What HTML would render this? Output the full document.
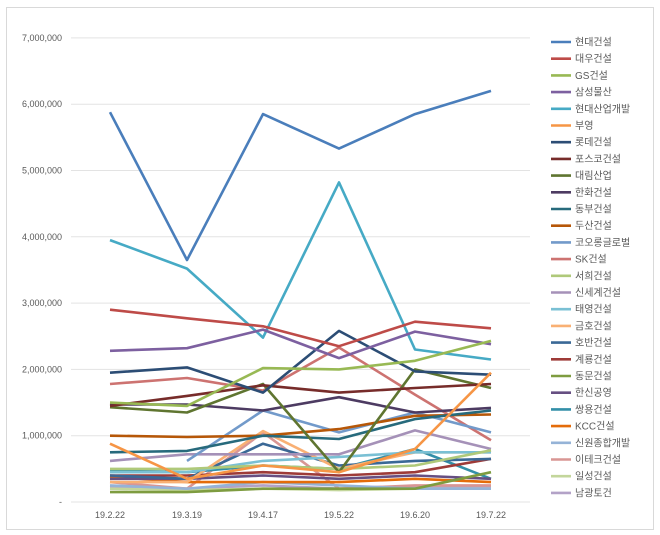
<!DOCTYPE html>
<html><head><meta charset="utf-8"><style>
html,body{margin:0;padding:0;background:#fff;}
svg{display:block;font-family:"Liberation Sans","Noto Sans CJK KR",sans-serif;}
</style></head><body>
<svg id="c" width="660" height="535" xmlns="http://www.w3.org/2000/svg">
<rect x="6.5" y="7.5" width="647" height="522" fill="#fff" stroke="#d9d9d9"/>
<g id="grid"></g><g id="lines" fill="none" stroke-width="2.6" stroke-linejoin="round"></g><g id="leg"></g>
</svg>
<script>
var NS="http://www.w3.org/2000/svg";
function el(t,a,p,txt){var e=document.createElementNS(NS,t);for(var k in a)e.setAttribute(k,a[k]);if(txt!==undefined)e.textContent=txt;p.appendChild(e);return e;}
var g=document.getElementById('grid'),L=document.getElementById('lines'),G=document.getElementById('leg');
function Y(v){return 502-v*66.3;}
var labs=["-","1,000,000","2,000,000","3,000,000","4,000,000","5,000,000","6,000,000","7,000,000"];
for(var i=0;i<8;i++){var y=Y(i);el('line',{x1:71,x2:530,y1:y,y2:y,stroke:'#e3e3e3','stroke-width':1},g);
el('text',{x:62,y:y+3,'font-size':9,fill:'#595959','text-anchor':'end'},g,labs[i]);}
var X=[110,187,263,339,415,491],xl=["19.2.22","19.3.19","19.4.17","19.5.22","19.6.20","19.7.22"];
for(i=0;i<6;i++)el('text',{x:X[i],y:518,'font-size':9,fill:'#595959','text-anchor':'middle'},g,xl[i]);
var S=[
["현대건설","#4a7ebb",[5.88,3.65,5.85,5.33,5.85,6.2]],
["대우건설","#be4b48",[2.9,2.77,2.65,2.35,2.72,2.62]],
["GS건설","#98b954",[1.5,1.45,2.02,2.0,2.13,2.43]],
["삼성물산","#7d60a0",[2.28,2.32,2.6,2.17,2.57,2.38]],
["현대산업개발","#46aac5",[3.95,3.52,2.48,4.82,2.3,2.15]],
["부영","#f69545",[0.88,0.35,0.55,0.45,0.8,1.95]],
["롯데건설","#2c4d75",[1.95,2.03,1.65,2.58,1.97,1.92]],
["포스코건설","#772c2a",[1.45,1.6,1.76,1.65,1.72,1.78]],
["대림산업","#5f7530",[1.43,1.35,1.78,0.45,2.0,1.72]],
["한화건설","#4d3b62",[1.47,1.47,1.38,1.58,1.35,1.42]],
["동부건설","#276a7c",[0.75,0.77,1.0,0.95,1.25,1.38]],
["두산건설","#b65708",[1.0,0.98,1.0,1.1,1.3,1.32]],
["코오롱글로벌","#729aca",[null,0.62,1.38,1.05,1.35,1.05]],
["SK건설","#cd7371",[1.78,1.87,1.68,2.33,1.62,0.93]],
["서희건설","#afc97a",[0.5,0.5,0.55,0.5,0.55,0.78]],
["신세계건설","#a591b8",[0.62,0.72,0.72,0.72,1.08,0.8]],
["태영건설","#7ac0d4",[0.45,0.45,0.62,0.68,0.75,0.75]],
["금호건설","#f9b074",[0.3,0.3,1.07,0.5,0.75,0.75]],
["호반건설","#3a6896",[0.4,0.35,0.88,0.55,0.62,0.65]],
["계룡건설","#9e3b38",[0.4,0.4,0.45,0.4,0.45,0.65]],
["동문건설","#7e9c40",[0.15,0.15,0.2,0.2,0.2,0.45]],
["한신공영","#664f82",[0.35,0.35,0.4,0.35,0.4,0.35]],
["쌍용건설","#338fa8",[0.47,0.45,0.55,0.5,0.8,0.35]],
["KCC건설","#e46c0a",[0.38,0.3,0.3,0.3,0.35,0.3]],
["신원종합개발","#95b3d7",[0.25,0.2,0.3,0.25,0.2,0.2]],
["이테크건설","#d99694",[0.3,0.2,1.05,0.2,0.25,0.25]],
["일성건설","#c3d69b",[0.2,0.18,0.2,0.18,0.2,0.2]],
["남광토건","#b3a2c7",[0.22,0.2,0.25,0.2,0.22,0.22]]];
for(var s=S.length-1;s>=0;s--){var p=[];S[s][2].forEach(function(v,j){if(v!==null)p.push(X[j]+','+Y(v).toFixed(1));});
el('polyline',{points:p.join(' '),stroke:S[s][1]},L);}
for(s=0;s<S.length;s++){var y=42+s*16.7;
el('line',{x1:551,x2:571,y1:y,y2:y,stroke:S[s][1],'stroke-width':2.6},G);
el('text',{x:575,y:y+3.5,'font-size':10,fill:'#595959'},G,S[s][0]);}
</script>
</body></html>
